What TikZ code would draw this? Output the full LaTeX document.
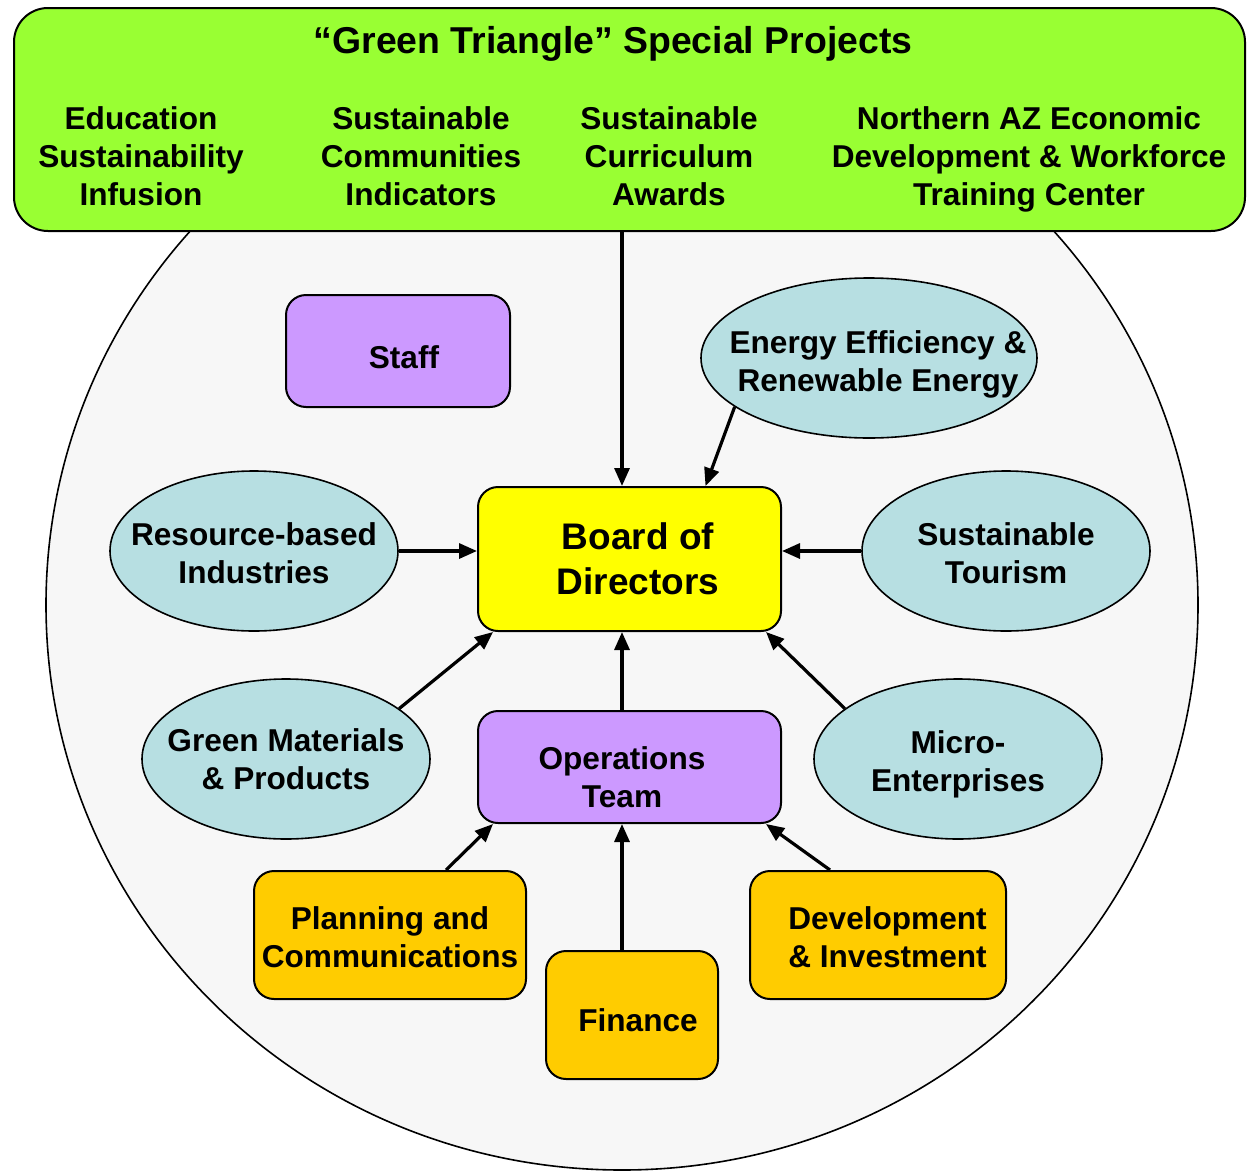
\documentclass[tikz,border=0pt]{standalone}
\usepackage{fontspec}
\setmainfont{Liberation Sans}
\usetikzlibrary{arrows.meta,shapes.geometric,calc}
\definecolor{greenbox}{HTML}{99FF33}
\definecolor{lavender}{HTML}{CC99FF}
\definecolor{paleblue}{HTML}{B7DFE2}
\definecolor{orangebox}{HTML}{FFCC00}
\definecolor{yellowbox}{HTML}{FFFF00}
\definecolor{bgcircle}{HTML}{F7F7F7}
\tikzset{
  txt/.style={font=\bfseries\fontsize{15.8}{19}\selectfont, align=center, inner sep=0pt},
  bigtxt/.style={font=\bfseries\fontsize{18.5}{22.5}\selectfont, align=center, inner sep=0pt},
  rbox/.style={draw=black, line width=1pt, rounded corners=10pt, inner sep=0pt},
  oval/.style={ellipse, draw=black, line width=0.8pt, fill=paleblue, inner sep=0pt, minimum width=144pt, minimum height=80pt},
  conn/.style={line width=1.6pt, -{Triangle[length=9pt,width=7.5pt]}},
}
\begin{document}
\begin{tikzpicture}[x=0.5pt,y=-0.5pt]
\useasboundingbox (0,0) rectangle (1253,1173);
\fill[white] (0,0) rectangle (1253,1173);
% large background disc
\draw[line width=0.8pt, fill=bgcircle] (622,605) ellipse [x radius=288pt, y radius=282.5pt];
% green banner
\node[rbox, rounded corners=17pt, fill=greenbox, minimum width=615.5pt, minimum height=111.5pt] (green) at (629.5,119.5) {};
\node[txt, font=\bfseries\fontsize{18.7}{22}\selectfont] (title) at (613,44) {“Green Triangle” Special Projects};
\node[txt] (p1) at (141,156) {Education\\Sustainability\\Infusion};
\node[txt] (p2) at (421,156) {Sustainable\\Communities\\Indicators};
\node[txt] (p3) at (669,156) {Sustainable\\Curriculum\\Awards};
\node[txt] (p4) at (1029,159) {Northern AZ Economic\\Development \& Workforce\\Training Center};
% boxes
\node[rbox, fill=lavender, minimum width=112pt, minimum height=56pt,
  label={[txt, xshift=3pt, yshift=-3pt]center:Staff}] (staff) at (398,351) {};
\node[rbox, fill=yellowbox, minimum width=151.5pt, minimum height=72pt,
  label={[bigtxt, xshift=4.25pt]center:{Board of\\Directors}}] (board) at (629.5,559) {};
\node[rbox, fill=lavender, minimum width=151.5pt, minimum height=56pt,
  label={[txt, xshift=-3.75pt, yshift=-5pt]center:{Operations\\Team}}] (ops) at (629.5,767) {};
\node[rbox, fill=orangebox, minimum width=136pt, minimum height=64pt,
  label={[txt, yshift=-1pt]center:{Planning and\\Communications}}] (plan) at (390,935) {};
\node[rbox, fill=orangebox, minimum width=86pt, minimum height=64pt,
  label={[txt, xshift=3pt, yshift=-2.5pt]center:Finance}] (fin) at (632,1015) {};
\node[rbox, fill=orangebox, minimum width=128pt, minimum height=64pt,
  label={[txt, xshift=4.75pt, yshift=-1pt]center:{Development\\\& Investment}}] (dev) at (878,935) {};
% ovals
\node[oval, minimum width=168pt,
  label={[txt, xshift=4.5pt, yshift=-3pt]center:{Energy Efficiency \&\\Renewable Energy}}] (energy) at (869,358) {};
\node[oval, label={[txt, yshift=-1pt]center:{Resource-based\\Industries}}] (res) at (254,551) {};
\node[oval, label={[txt, yshift=-1pt]center:{Sustainable\\Tourism}}] (tour) at (1006,551) {};
\node[oval, label={[txt]center:{Green Materials\\\& Products}}] (gm) at (286,759) {};
\node[oval, label={[txt, yshift=-2.5pt]center:{Micro-\\Enterprises}}] (micro) at (958,759) {};
% connectors
\draw[conn] ([xshift=-3.75pt]green.south) -- ([xshift=-3.75pt]board.north);
\draw[conn] (energy.200) -- ([xshift=38pt]board.north);
\draw[conn] (res.east) -- (res.east -| board.west);
\draw[conn] (tour.west) -- (tour.west -| board.east);
\draw[conn] (gm.24) -- ([xshift=8pt]board.south west);
\draw[conn] (micro.156) -- ([xshift=-8pt]board.south east);
\draw[conn] ([xshift=-3.75pt]ops.north) -- ([xshift=-3.75pt]board.south);
\draw[conn] ([xshift=28pt]plan.north) -- ([xshift=8pt]ops.south west);
\draw[conn] ([xshift=-5pt]fin.north) -- ([xshift=-5pt]fin.north |- ops.south);
\draw[conn] ([xshift=-24pt]dev.north) -- ([xshift=-8pt]ops.south east);
\end{tikzpicture}
\end{document}
